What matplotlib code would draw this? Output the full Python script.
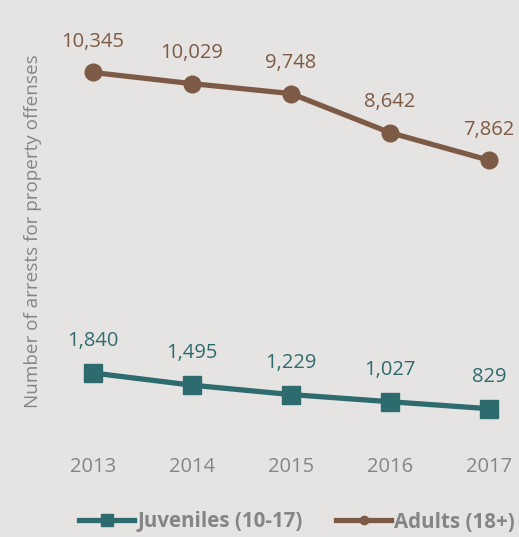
import matplotlib
matplotlib.use("Agg")
import matplotlib.pyplot as plt

years = ["2013", "2014", "2015", "2016", "2017"]
juveniles = [1840, 1495, 1229, 1027, 829]
adults = [10345, 10029, 9748, 8642, 7862]

BG = "#e6e4e3"
TEAL = "#2e6b6e"
BROWN = "#7d5a45"
GRAY = "#858585"

plt.rcParams['font.family'] = ['Open Sans', 'DejaVu Sans']

fig = plt.figure(figsize=(5.19, 5.37), dpi=100, facecolor=BG)
ax = fig.add_axes([55/519, 1 - 438/537, 464/519, (438 - 14)/537])
ax.set_facecolor(BG)

x = list(range(len(years)))
ax.plot(x, juveniles, color=TEAL, lw=3.8, marker='s', ms=13, label="Juveniles (10-17)")
ax.plot(x, adults, color=BROWN, lw=3.8, marker='o', ms=12, label="Adults (18+)")

for xi, v in zip(x, juveniles):
    ax.annotate(f"{v:,}", (xi, v), xytext=(0, 23), textcoords="offset points",
                ha="center", va="center", color=TEAL, fontsize=14.5)
for xi, v in zip(x, adults):
    ax.annotate(f"{v:,}", (xi, v), xytext=(0, 22), textcoords="offset points",
                ha="center", va="center", color=BROWN, fontsize=14.5)

ax.set_xlim(-38/99, 4 + 30/99)
ax.set_ylim(0, 12000)
ax.set_xticks(x)
ax.set_xticklabels(years, color=GRAY, fontsize=14.5)
ax.set_yticks([])
ax.tick_params(axis='x', length=0, pad=14)
for s in ax.spines.values():
    s.set_visible(False)

fig.text(33/519, 1 - 231/537, "Number of arrests for property offenses", rotation=90,
         ha="center", va="center", color=GRAY, fontsize=13.6)

leg = fig.legend(loc="center", bbox_to_anchor=(297/519, 1 - 522/537), ncol=2,
                 frameon=False, handlelength=2.7, columnspacing=1.6, handletextpad=0.15,
                 prop={'weight': 'bold', 'size': 14.8})
for t in leg.get_texts():
    t.set_color(GRAY)
for h, ms in zip(leg.legend_handles, [8, 6]):
    h.set_markersize(ms)

fig.savefig("out.png", dpi=100, facecolor=BG)
